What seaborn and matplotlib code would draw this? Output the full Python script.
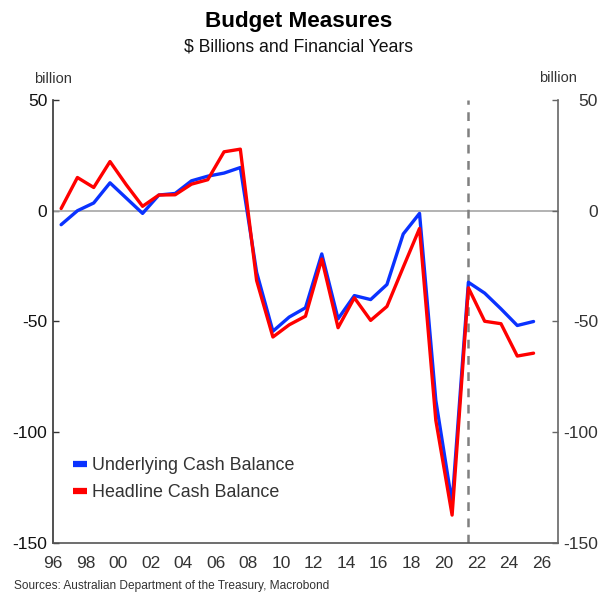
import numpy as np
import pandas as pd
import matplotlib
matplotlib.use("Agg")
import matplotlib.pyplot as plt
import seaborn as sns

# financial years, plotted at mid-year (1996.5 = FY 1996-97)
years = [1996.5 + i for i in range(30)]
underlying = [-6.3, 0.0, 3.5, 12.6, 5.7, -1.2, 7.1, 7.8, 13.5, 15.6,
              17.0, 19.5, -27.8, -54.4, -48.0, -43.8, -19.5, -48.8, -38.3, -40.1,
              -33.3, -10.5, -1.2, -85.6, -132.0, -32.3, -37.2, -44.3, -51.8, -50.0]
headline = [1.0, 15.0, 10.5, 22.2, 11.7, 2.0, 7.1, 7.2, 12.0, 14.0,
            26.6, 27.8, -31.5, -57.0, -51.5, -47.6, -21.8, -52.8, -39.3, -49.5,
            -43.2, -25.5, -8.0, -94.6, -137.4, -34.8, -49.9, -51.0, -65.6, -64.3]
series_names = ["Underlying Cash Balance", "Headline Cash Balance"]
series_colors = ["#0a32ff", "#ff0000"]
xticks = list(range(1996, 2027, 2))
xtick_labels = [str(y)[2:] for y in xticks]
yticks = [50, 0, -50, -100, -150]
forecast_start = 2021.5

df = pd.DataFrame({
    "year": years * 2,
    "value": underlying + headline,
    "series": [series_names[0]] * len(years) + [series_names[1]] * len(years),
})

sns.set_style("white")
plt.rcParams['font.family'] = ['Liberation Sans', 'DejaVu Sans']
plt.rcParams['axes.unicode_minus'] = False

fig = plt.figure(figsize=(5.98, 5.93), dpi=100)
ax = fig.add_axes([0.0886, 0.0843, 0.8445, 0.7471])

ax.axhline(0, color="#a6a6a6", lw=1.2, zorder=1)
ax.axvline(forecast_start, color="#808080", lw=1.8, ls=(0, (3.5, 3)), zorder=1)

sns.lineplot(data=df, x="year", y="value", hue="series", palette=series_colors,
             linewidth=2.4, ax=ax, legend=True, zorder=3)

ax.set_xlim(1996, 2027)
ax.set_ylim(-150, 50)
ax.set_xticks(xticks)
ax.set_xticklabels(xtick_labels)
ax.set_yticks(yticks)
ax.set_xlabel("")
ax.set_ylabel("")

for side in ["top", "right"]:
    ax.spines[side].set_visible(False)
ax.spines["left"].set_color("#333333")
ax.spines["bottom"].set_color("#555555")
ax.spines["left"].set_linewidth(1.2)
ax.spines["bottom"].set_linewidth(1.2)
ax.tick_params(axis="y", direction="in", length=4, width=1, color="#333333",
               labelsize=12.5, labelcolor="#111111", pad=4)
ax.tick_params(axis="x", direction="in", length=4, width=1, color="#555555",
               labelsize=12.5, labelcolor="#333333", pad=9)

# right-hand axis, labels right-aligned against the figure edge
ax2 = ax.twinx()
ax2.set_ylim(-150, 50)
ax2.set_yticks(yticks)
for side in ["top", "left", "bottom"]:
    ax2.spines[side].set_visible(False)
ax2.spines["right"].set_color("#666666")
ax2.spines["right"].set_linewidth(1.2)
ax2.tick_params(axis="y", direction="in", length=4, width=1, color="#666666",
                labelsize=12.5, labelcolor="#333333", pad=28.8)
for lab in ax2.get_yticklabels():
    lab.set_horizontalalignment("right")
ax2.grid(False)

leg = ax.legend(loc="lower left", bbox_to_anchor=(0.025, 0.078), frameon=False,
                fontsize=12.9, handlelength=0.8, handletextpad=0.25,
                labelspacing=0.55, borderaxespad=0)
for t in leg.get_texts():
    t.set_color("#333333")
for h in leg.get_lines():
    h.set_linewidth(4.5)
    h.set_solid_capstyle("butt")

fig.text(0.5, 0.964, "Budget Measures", ha="center", va="center",
         fontsize=16.2, fontweight="bold", color="#000000")
fig.text(0.5, 0.920, "$ Billions and Financial Years", ha="center", va="center",
         fontsize=12.7, color="#111111")
fig.text(0.088, 0.866, "billion", ha="center", va="center", fontsize=10.5, color="#333333")
fig.text(0.933, 0.869, "billion", ha="center", va="center", fontsize=10.5, color="#333333")
fig.text(0.023, 0.002, "Sources: Australian Department of the Treasury, Macrobond",
         ha="left", va="bottom", fontsize=8.6, color="#333333")

fig.savefig("out.png", dpi=100)
